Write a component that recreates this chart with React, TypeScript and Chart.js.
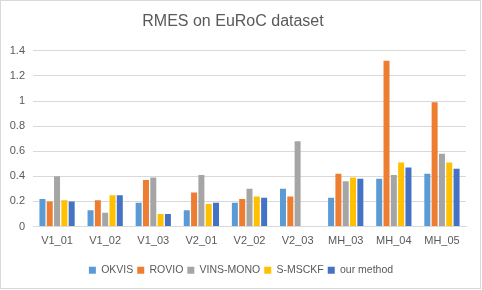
import React, { useEffect, useRef } from "react";
import { Chart, registerables } from "chart.js";

Chart.register(...registerables);

const categories = ["V1_01", "V1_02", "V1_03", "V2_01", "V2_02", "V2_03", "MH_03", "MH_04", "MH_05"];
const okvis = [0.22, 0.13, 0.19, 0.13, 0.19, 0.3, 0.23, 0.38, 0.42];
const rovio = [0.2, 0.21, 0.37, 0.27, 0.22, 0.24, 0.42, 1.32, 0.99];
const vinsMono = [0.4, 0.11, 0.39, 0.41, 0.3, 0.68, 0.36, 0.41, 0.58];
const sMsckf = [0.21, 0.25, 0.1, 0.18, 0.24, null, 0.39, 0.51, 0.51];
const ourMethod = [0.2, 0.25, 0.1, 0.19, 0.23, null, 0.38, 0.47, 0.46];

const seriesNames = ["OKVIS", "ROVIO", "VINS-MONO", "S-MSCKF", "our method"];
const seriesColors = ["#5B9BD5", "#ED7D31", "#A5A5A5", "#FFC000", "#4472C4"];

const FONT = "'Liberation Sans', Arial, sans-serif";
const TEXT = "#595959";

const borderPlugin = {
  id: "outerBorder",
  afterLayout(chart: any) {
    if (chart.legend) {
      chart.legend.left += 8;
      chart.legend.right += 8;
    }
  },
  afterDraw(chart: any) {
    const ctx = chart.ctx;
    ctx.save();
    ctx.strokeStyle = "#d9d9d9";
    ctx.lineWidth = 1;
    ctx.strokeRect(0.5, 0.5, 480, 288);
    ctx.restore();
  },
};

export default function App() {
  const ref = useRef<HTMLCanvasElement | null>(null);
  useEffect(() => {
    if (!ref.current) return;
    const all = [okvis, rovio, vinsMono, sMsckf, ourMethod];
    const chart = new Chart(ref.current, {
      type: "bar",
      data: {
        labels: categories,
        datasets: all.map((d, i) => ({
          label: seriesNames[i],
          data: d,
          backgroundColor: seriesColors[i],
          borderWidth: 0,
          barPercentage: 0.82,
          categoryPercentage: 0.76,
        })),
      },
      options: {
        animation: false,
        responsive: false,
        devicePixelRatio: 1,
        layout: { padding: { left: 0, right: 16, top: 0, bottom: 4.5 } },
        plugins: {
          title: {
            display: true,
            text: "RMES on EuRoC dataset",
            color: TEXT,
            font: { family: FONT, size: 16, weight: "normal" },
            padding: { top: 12, bottom: 19.6 },
          },
          legend: {
            position: "bottom",
            labels: {
              boxWidth: 7,
              boxHeight: 7,
              padding: 4,
              color: TEXT,
              font: { family: FONT, size: 10.5 },
            },
          },
          tooltip: { enabled: false },
        },
        scales: {
          x: {
            grid: { display: false, drawTicks: false },
            border: { display: true, color: "#d9d9d9" },
            ticks: { color: TEXT, font: { family: FONT, size: 11 }, padding: 8, maxRotation: 0 },
            afterFit: (s: any) => { s.height = 34.5; },
          },
          y: {
            min: 0,
            max: 1.4,
            ticks: {
              stepSize: 0.2,
              color: TEXT,
              font: { family: FONT, size: 11 },
              padding: 8,
              callback: (v: any) => String(Math.round(Number(v) * 10) / 10),
            },
            grid: { color: "#d9d9d9", drawTicks: false },
            border: { display: false },
            afterFit: (s: any) => { s.width = 33; },
          },
        },
      },
      plugins: [borderPlugin],
    } as any);
    return () => chart.destroy();
  }, []);
  return (
    <div style={{ position: "fixed", left: 0, top: 0, width: 482, height: 290, background: "#fff" }}>
      <canvas ref={ref} width={482} height={290} style={{ display: "block", width: 482, height: 290 }} />
    </div>
  );
}
